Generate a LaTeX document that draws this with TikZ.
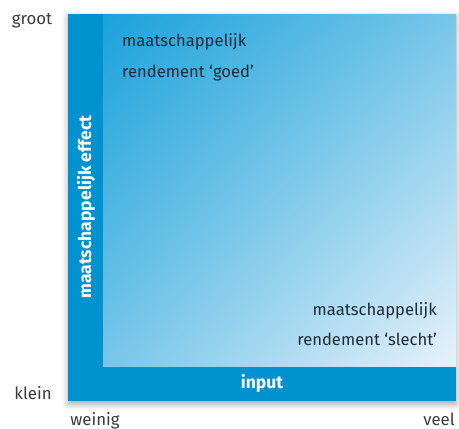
\documentclass[tikz,border=0pt]{standalone}
\usepackage{fontspec}
\setmainfont{Fira Sans}
\usetikzlibrary{shadows.blur,shadings}
\definecolor{barblue}{HTML}{0092CF}
\definecolor{gradtl}{HTML}{1BA2DB}
\definecolor{gradbr}{HTML}{E8F2FA}
\definecolor{txtgray}{HTML}{3A3A3A}
\definecolor{txtdark}{HTML}{1E2A36}
\tikzset{
  axislabel/.style={font=\fontsize{16.8}{18}\selectfont, text=txtgray, inner sep=0pt},
  zonelabel/.style={font=\fontsize{16.6}{31}\selectfont, text=txtdark, inner sep=0pt},
  barlabel/.style={font=\bfseries\fontsize{17.5}{18}\selectfont, text=white, inner sep=0pt},
}
\begin{document}
\begin{tikzpicture}[x=1pt,y=-1pt]
\useasboundingbox (0,0) rectangle (459,429);
% outer square with shadow
\node[draw=none, fill=barblue, minimum width=388pt, minimum height=387pt, inner sep=0pt,
      blur shadow={shadow xshift=0pt, shadow yshift=-3pt, shadow blur radius=6pt, shadow opacity=35},
      anchor=north west] (frame) at (68,14) {};
% gradient area
\shade[upper left=gradtl, upper right=gradtl!55!gradbr, lower left=gradtl!55!gradbr, lower right=gradbr]
  (103,14) rectangle (456,366);
% zone labels
\node[zonelabel, anchor=base west, align=left] (good1) at (122,46) {maatschappelijk};
\node[zonelabel, anchor=base west, align=left] (good2) at (122,77) {rendement ‘goed’};
\node[zonelabel, anchor=base east] (bad1) at (437,315) {maatschappelijk};
\node[zonelabel, anchor=base east] (bad2) at (437,345) {rendement ‘slecht’};
% bar labels
\node[barlabel, rotate=90] (yaxis) at (86,207) {maatschappelijk effect};
\node[barlabel] (xaxis) at (262,383) {input};
% axis end labels
\node[axislabel, anchor=base] (groot) at (32,24) {groot};
\node[axislabel, anchor=base] (klein) at (33,399) {klein};
\node[axislabel, anchor=base] (weinig) at (95,425) {weinig};
\node[axislabel, anchor=base] (veel) at (439,425) {veel};
\end{tikzpicture}
\end{document}
